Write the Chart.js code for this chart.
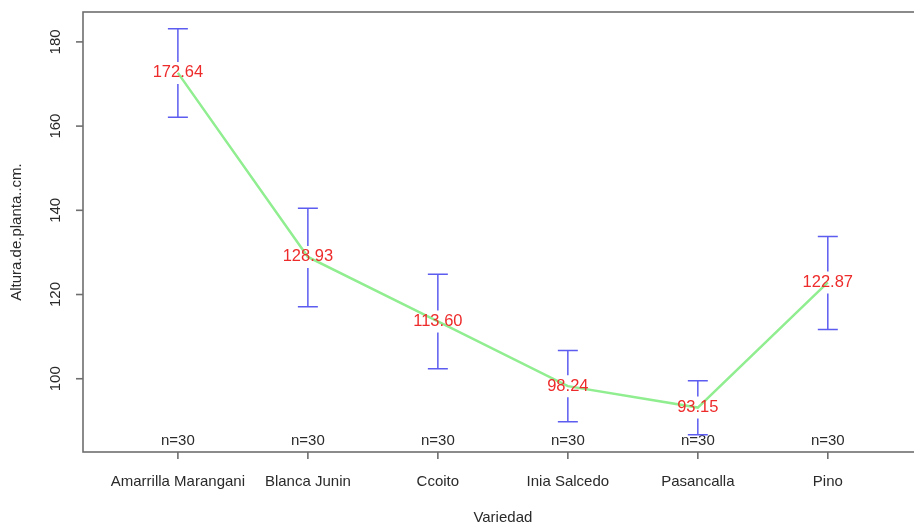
<!DOCTYPE html>
<html>
<head>
<meta charset="utf-8">
<script src="https://cdn.jsdelivr.net/npm/chart.js@4"></script>
<style>
  html, body { margin: 0; padding: 0; background: #fff; }
  #wrap { width: 914px; height: 526px; overflow: hidden; position: relative; }
  canvas { display: block; }
</style>
</head>
<body>
<div id="wrap"><canvas id="means-chart" width="960" height="526"></canvas></div>
<script>
/* ── Data ── */
const CATEGORIES = ['Amarrilla Marangani', 'Blanca Junin', 'Ccoito', 'Inia Salcedo', 'Pasancalla', 'Pino'];
const MEANS      = [172.64, 128.93, 113.60, 98.24, 93.15, 122.87];
const UPPER      = [183.1, 140.5, 124.8, 106.7, 99.5, 133.8];
const LOWER      = [162.1, 117.1, 102.4, 89.8, 86.7, 111.7];
const N_LABELS   = ['n=30', 'n=30', 'n=30', 'n=30', 'n=30', 'n=30'];
const Y_TICKS    = [100, 120, 140, 160, 180];

const FONT = '"Liberation Sans", Arial, Helvetica, sans-serif';
const TEXT = '#2a2a2a';
const AXIS = '#6e6e6e';

/* ── R style frame, axes, error bars and labels ── */
const rPlot = {
  id: 'rPlot',
  afterDatasetsDraw(chart) {
    const { ctx, chartArea: a, scales: { x, y } } = chart;
    ctx.save();

    // box
    ctx.strokeStyle = AXIS;
    ctx.lineWidth = 1.6;
    ctx.strokeRect(a.left, a.top, a.right - a.left, a.bottom - a.top);

    // y ticks (rotated labels)
    ctx.fillStyle = TEXT;
    ctx.font = '15px ' + FONT;
    ctx.textAlign = 'center';
    ctx.textBaseline = 'middle';
    Y_TICKS.forEach(v => {
      const py = y.getPixelForValue(v);
      ctx.beginPath();
      ctx.moveTo(a.left - 7, py);
      ctx.lineTo(a.left, py);
      ctx.stroke();
      ctx.save();
      ctx.translate(a.left - 27, py);
      ctx.rotate(-Math.PI / 2);
      ctx.fillText(String(v), 0, 0);
      ctx.restore();
    });

    // x ticks + category labels + n labels
    CATEGORIES.forEach((c, i) => {
      const px = x.getPixelForValue(i);
      ctx.beginPath();
      ctx.moveTo(px, a.bottom);
      ctx.lineTo(px, a.bottom + 7);
      ctx.stroke();
      ctx.fillText(c, px, a.bottom + 30);
      ctx.fillText(N_LABELS[i], px, a.bottom - 11);
    });

    // axis titles
    ctx.fillText('Variedad', x.getPixelForValue(2.5), a.bottom + 66);
    ctx.save();
    ctx.translate(17, (a.top + a.bottom) / 2);
    ctx.rotate(-Math.PI / 2);
    ctx.fillText('Altura.de.planta..cm.', 0, 0);
    ctx.restore();

    // interrupted error bars
    ctx.strokeStyle = '#5c5cf0';
    ctx.lineWidth = 1.5;
    const gap = 11;
    MEANS.forEach((m, i) => {
      const px = x.getPixelForValue(i);
      const pm = y.getPixelForValue(m);
      const pu = y.getPixelForValue(UPPER[i]);
      const pl = y.getPixelForValue(LOWER[i]);
      ctx.beginPath();
      ctx.moveTo(px, pu); ctx.lineTo(px, pm - gap);
      ctx.moveTo(px, pm + gap); ctx.lineTo(px, pl);
      ctx.moveTo(px - 10, pu); ctx.lineTo(px + 10, pu);
      ctx.moveTo(px - 10, pl); ctx.lineTo(px + 10, pl);
      ctx.stroke();
    });

    // mean labels
    ctx.fillStyle = '#ee2b2b';
    ctx.font = '16.5px ' + FONT;
    MEANS.forEach((m, i) => {
      ctx.fillText(m.toFixed(2), x.getPixelForValue(i), y.getPixelForValue(m));
    });

    ctx.restore();
  },
};

/* ── Means line chart ── */
new Chart(document.getElementById('means-chart'), {
  type: 'line',
  plugins: [rPlot],
  data: {
    datasets: [{
      data:        MEANS.map((m, i) => ({ x: i, y: m })),
      borderColor: '#90ee90',
      borderWidth: 2.5,
      pointRadius: 0,
      tension:     0,
      fill:        false,
    }],
  },
  options: {
    responsive: false,
    animation:  false,
    layout: { padding: { left: 83, right: 36, top: 12, bottom: 74 } },
    plugins: {
      legend:  { display: false },
      tooltip: { enabled: false },
    },
    scales: {
      x: { type: 'linear', min: -0.73, max: 5.74, display: false },
      y: { type: 'linear', min: 82.6, max: 187.1, display: false },
    },
  },
});
</script>
</body>
</html>
